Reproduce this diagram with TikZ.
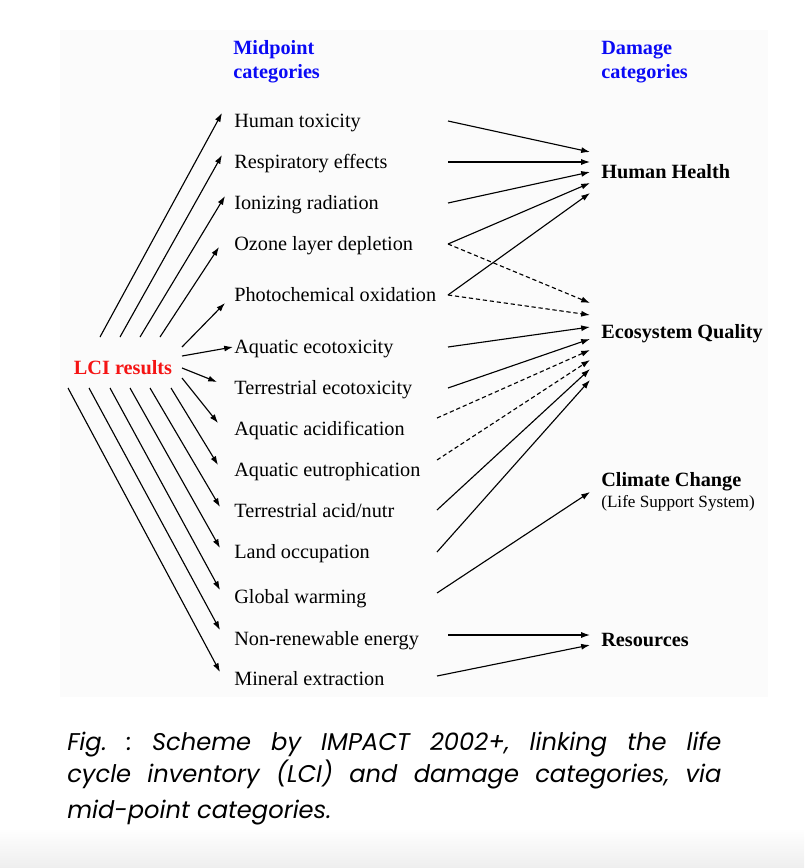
\documentclass[tikz,border=0pt]{standalone}
\usepackage{fontspec}
\setmainfont{Liberation Serif}
\newfontfamily\capfont{Poppins}
\usetikzlibrary{arrows.meta,calc}

\definecolor{panel}{RGB}{251,251,251}
\definecolor{headblue}{RGB}{10,10,245}
\definecolor{lcired}{RGB}{245,20,20}
\definecolor{footgray}{RGB}{238,238,238}

\begin{document}
\frenchspacing
\begin{tikzpicture}[x=0.025cm, y=-0.025cm,
    every node/.style={inner sep=0pt},
    mid/.style={anchor=west, inner xsep=0.3cm, text height=14pt, text depth=3pt, font=\fontsize{14.4}{17}\selectfont},
    dam/.style={anchor=west, inner xsep=0.275cm, text height=14pt, text depth=3pt, font=\fontsize{14.4}{17}\selectfont\bfseries},
    head/.style={anchor=base west, text=headblue, font=\fontsize{14.4}{17}\selectfont\bfseries},
    captext/.style={anchor=base west, font=\capfont\fontsize{17.2}{20}\selectfont\itshape},
    arr/.style={line width=0.8pt, -{Latex[length=2.2mm,width=1.5mm]}},
    darr/.style={arr, dash pattern=on 3pt off 2pt}]

    \useasboundingbox (0,0) rectangle (804,868);
    \fill[panel] (60,30) rectangle (768,697);
    \shade[top color=white, bottom color=footgray] (0,828) rectangle (804,868);

    % column heads
    \node[head] (mp1) at (233,54) {Midpoint};
    \node[head] (mp2) at (233,78) {categories};
    \node[head] (dc1) at (601,54) {Damage};
    \node[head] (dc2) at (601,78) {categories};

    % midpoint categories
    \foreach \i/\y/\txt in {1/120/Human toxicity, 2/161/Respiratory effects,
        3/202/Ionizing radiation, 4/243/Ozone layer depletion,
        5/294/Photochemical oxidation, 6/346/Aquatic ecotoxicity,
        7/387/Terrestrial ecotoxicity, 8/428/Aquatic acidification,
        9/469/Aquatic eutrophication, 10/510/{Terrestrial acid/nutr},
        11/551/Land occupation, 12/596/Global warming,
        13/638/Non-renewable energy, 14/678/Mineral extraction} {
        \node[mid] (m\i) at (222,\y) {\txt};
    }

    \node[text=lcired, font=\fontsize{14.4}{17}\selectfont\bfseries] (lci) at (123,368) {LCI results};

    % inventory -> midpoint
    \foreach \i/\sx/\sy/\dx/\dy in {1/100/337/0/-7, 2/120/337/0/-6, 3/140/337/3/-6,
        4/160/337/-3/4, 5/182/347/3/9, 6/182/356/11/1, 7/182/368/-5/-5,
        8/182/378/-4/-5, 9/171/388/-4/-4, 10/150/388/-2/-3, 11/130/388/-2/-3,
        12/110/388/-2/-6, 13/89/388/-2/-8, 14/68/388/-2/-6} {
        \coordinate (l\i) at (\sx,\sy);
        \draw[arr] (l\i) -- ($(m\i.west)+(\dx,\dy)$);
    }

    % damage categories
    \node[dam] (hh) at (590,171) {Human Health};
    \node[dam] (eq) at (590,331) {Ecosystem Quality};
    \node[dam] (cc) at (590,479) {Climate Change};
    \node[anchor=west, font=\fontsize{12.2}{14}\selectfont] (ls) at (601,503) {(Life Support System)};
    \node[dam] (rs) at (590,639) {Resources};

    % midpoint -> damage
    \foreach \i/\rx/\ry/\tg/\dy/\sty in {1/448/121/hh/-19/arr, 2/448/162/hh/-9/arr,
        3/448/203/hh/1/arr, 4/448/244/hh/12/arr, 5/448/295/hh/22/arr,
        4/448/244/eq/-28/darr, 5/448/295/eq/-16/darr, 6/448/347/eq/-4/arr,
        7/448/388/eq/8/arr, 8/437/418/eq/19/darr, 9/437/460/eq/29/darr,
        10/437/510/eq/38/arr, 11/437/552/eq/49/arr, 12/437/593/cc/13/arr,
        13/448/635/rs/-4/arr, 14/437/676/rs/6/arr} {
        \coordinate (r\i) at (\rx,\ry);
        \draw[\sty] (r\i) -- ($(\tg.west)+(0,\dy)$);
    }

    % caption
    \node[captext] (c1) at (67,750) {\makebox[16.35cm][s]{Fig. : Scheme by IMPACT 2002+, linking the life}};
    \node[captext] (c2) at (67,782) {\makebox[16.35cm][s]{cycle inventory (LCI) and damage categories, via}};
    \node[captext] (c3) at (67,818) {mid-point categories.};
\end{tikzpicture}
\end{document}
